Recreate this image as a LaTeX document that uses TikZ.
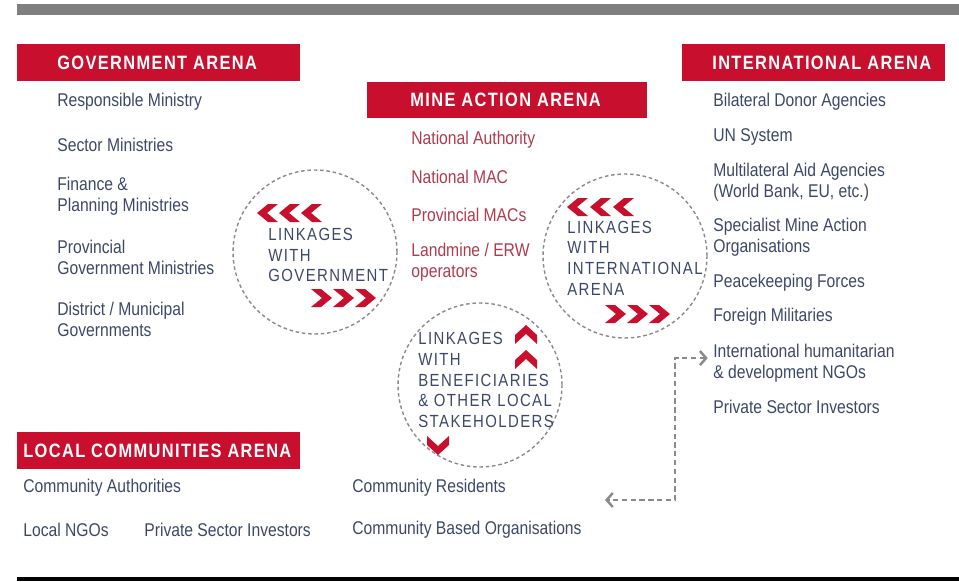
\documentclass[tikz,border=0pt]{standalone}
\usepackage{fontspec}
\setmainfont{Liberation Sans}[FakeStretch=0.85]
\newfontfamily\headfont{Liberation Sans}[FakeStretch=0.85, LetterSpace=7]
\newfontfamily\linkfont{Liberation Sans}[FakeStretch=0.85, LetterSpace=8]
\usetikzlibrary{arrows.meta}
\definecolor{arenared}{HTML}{C8102E}
\definecolor{itemblue}{HTML}{3C4868}
\definecolor{mared}{HTML}{B03A4E}
\definecolor{dashgray}{HTML}{8A8A8A}
\definecolor{bargray}{HTML}{7F7F7F}

\begin{document}
\begin{tikzpicture}[x=0.02cm, y=-0.02cm,
    item/.style={anchor=west, inner sep=0pt, align=left, text=itemblue,
                 font=\fontsize{10.5}{12}\selectfont},
    maitem/.style={item, text=mared},
    arenabox/.style={fill=arenared, anchor=west, inner sep=0pt, minimum height=0.74cm},
    arenatitle/.style={anchor=west, inner sep=0pt, text=white,
                       font=\headfont\fontsize{11}{13}\selectfont\bfseries},
    linkring/.style={circle, draw=dashgray, line width=0.8pt,
                     dash pattern=on 2pt off 1.6pt, minimum size=3.28cm, inner sep=0pt},
    linktext/.style={anchor=west, inner sep=0pt, align=left, text=itemblue,
                     font=\linkfont\fontsize{10}{11.8}\selectfont},
    ngolink/.style={draw=dashgray, line width=1pt, dash pattern=on 3pt off 2pt,
                    {Straight Barb[length=3.5pt,width=8pt,line width=1.4pt]}-{Straight Barb[length=3.5pt,width=8pt,line width=1.4pt]}},
    chevr/.pic={\fill[arenared] (-21,-9) -- (-11,-9) -- (0,0) -- (-11,9) -- (-21,9) -- (-10,0) -- cycle;},
    chevu/.pic={\fill[arenared] (0,0) -- (11,10) -- (11,19) -- (0,9) -- (-11,19) -- (-11,10) -- cycle;},
  ]
  \useasboundingbox (0,0) rectangle (959,581);

  % rules top and bottom
  \fill[bargray] (17,4) rectangle (959,15);
  \fill[black] (17,577) rectangle (959,581);

  % arena headings
  \node[arenabox, minimum width=5.66cm] (govbox) at (17,62.5) {};
  \node[arenatitle] (govtitle) at (57,62.5) {GOVERNMENT ARENA};
  \node[arenabox, minimum width=5.6cm] (mabox) at (367,100) {};
  \node[arenatitle] (matitle) at (410,100) {MINE ACTION ARENA};
  \node[arenabox, minimum width=5.26cm] (intlbox) at (682,62.5) {};
  \node[arenatitle] (intltitle) at (712,62.5) {INTERNATIONAL ARENA};
  \node[arenabox, minimum width=5.66cm] (localbox) at (17,450.5) {};
  \node[arenatitle] (localtitle) at (23,450.5) {LOCAL COMMUNITIES ARENA};

  % government arena
  \foreach \yy/\txt [count=\i] in {102/{Responsible Ministry}, 145/{Sector Ministries},
      196/{Finance \&\\Planning Ministries}, 257.5/{Provincial\\Government Ministries},
      319.5/{District / Municipal\\Governments}}
    \node[item] (gov\i) at (57,\yy) {\txt};

  % mine action arena
  \foreach \yy/\txt [count=\i] in {140/{National Authority}, 177/{National MAC},
      215/{Provincial MACs}, 262/{Landmine / ERW\\operators}}
    \node[maitem] (ma\i) at (411,\yy) {\txt};

  % international arena
  \foreach \yy/\txt [count=\i] in {102/{Bilateral Donor Agencies}, 137/{UN System},
      182.5/{Multilateral Aid Agencies\\(World Bank, EU, etc.)},
      237.5/{Specialist Mine Action\\Organisations}, 283/{Peacekeeping Forces},
      317/{Foreign Militaries}, 363/{International humanitarian\\\& development NGOs},
      407/{Private Sector Investors}}
    \node[item] (intl\i) at (713,\yy) {\txt};

  % local communities arena
  \node[item] (local1) at (23,488) {Community Authorities};
  \node[item] (local2) at (23,530) {Local NGOs};
  \node[item] (local3) at (144,530) {Private Sector Investors};
  \node[item] (local4) at (352,488) {Community Residents};
  \node[item] (local5) at (352,530) {Community Based Organisations};

  % linkage rings
  \node[linkring] (govring) at (315,252) {};
  \node[linkring] (intlring) at (625,256) {};
  \node[linkring] (benring) at (480,385) {};
  \node[linktext] (govlink) at (268,255) {LINKAGES\\WITH\\GOVERNMENT};
  \node[linktext] (intllink) at (567,258) {LINKAGES\\WITH\\INTERNATIONAL\\ARENA};
  \node[linktext] (benlink) at (418,380) {LINKAGES\\WITH\\BENEFICIARIES\\\& OTHER LOCAL\\STAKEHOLDERS};

  % chevrons
  \foreach \x in {257,279,301} \pic[xscale=-1] at (\x,213) {chevr};
  \foreach \x in {332,354,376} \pic at (\x,298) {chevr};
  \foreach \x in {567,590,613} \pic[xscale=-1] at (\x,207) {chevr};
  \foreach \x in {626,648,670} \pic at (\x,314) {chevr};
  \foreach \y in {325,350} \pic at (526,\y) {chevu};
  \pic[yscale=-1] at (438,455) {chevu};

  % NGOs to local communities
  \coordinate (ngobend) at (675,500);
  \coordinate (lcarrow) at (605,500);
  \draw[ngolink] ([shift={(-3pt,2.8pt)}]intl7.west) -| (ngobend) -- (lcarrow);
\end{tikzpicture}
\end{document}
